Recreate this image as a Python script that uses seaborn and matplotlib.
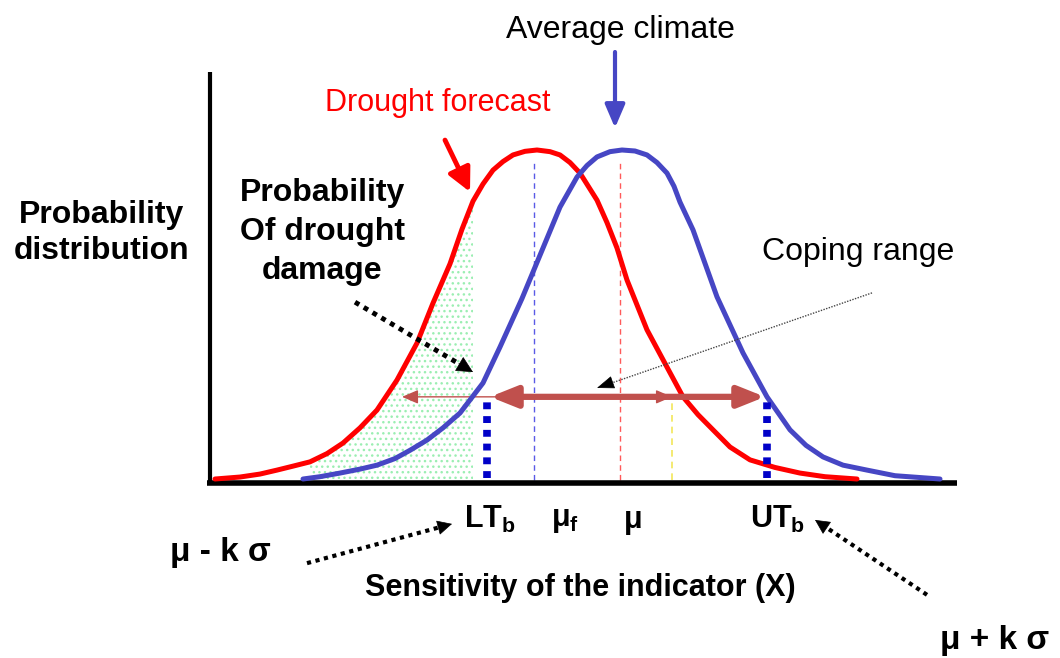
import matplotlib
matplotlib.use("Agg")
import matplotlib.pyplot as plt
import seaborn as sns
import numpy as np
import pandas as pd

# indicator value (x) and relative probability
forecast_x = [0.5, 3, 5, 6.7, 8.3, 10, 11.7, 13.3, 15, 16.7, 18.7, 20.7, 22.3, 24, 25.2,
              26.3, 27.3, 28.3, 29.3, 30.3, 31.5, 32.7, 34, 35, 36, 37, 38.7, 39.7, 40.7,
              41.7, 43.7, 45.7, 47.3, 48.8, 50.3, 52, 54, 56.5, 59, 61.5, 64.7]
forecast_p = [0.003, 0.009, 0.018, 0.030, 0.042, 0.055, 0.080, 0.112, 0.158, 0.212, 0.303,
              0.415, 0.536, 0.655, 0.760, 0.845, 0.897, 0.939, 0.965, 0.985, 0.996, 1.0,
              0.995, 0.985, 0.962, 0.930, 0.848, 0.780, 0.703, 0.606, 0.455, 0.342, 0.252,
              0.198, 0.152, 0.100, 0.061, 0.038, 0.021, 0.010, 0.003]
climate_x = [9.3, 11, 13, 15, 16.7, 18.5, 20, 21.7, 23.3, 25, 27.3, 29, 31.2, 33.3, 35,
             36.7, 37.7, 38.7, 40, 41.2, 42.5, 43.7, 44.7, 45.7, 46.4, 47, 48.3, 50.7,
             53.3, 55.7, 58, 59.6, 61.3, 63.3, 65.7, 68.5, 73]
climate_p = [0.003, 0.010, 0.021, 0.033, 0.045, 0.065, 0.090, 0.121, 0.158, 0.203, 0.294,
             0.403, 0.550, 0.703, 0.827, 0.918, 0.953, 0.979, 0.995, 1.0, 0.997, 0.985,
             0.962, 0.930, 0.890, 0.842, 0.758, 0.555, 0.385, 0.252, 0.152, 0.105, 0.070,
             0.045, 0.030, 0.013, 0.003]

mu_f = 32.4          # forecast mean
mu = 41.0            # climate mean
lt_b, ut_b = 27.7, 55.7          # coping range thresholds
fc_lo, fc_hi = 19.2, 46.2        # forecast-shifted range
threshold_p = 0.252
damage_lo, damage_hi = 8.5, 26.5

sns.set_style("white")
plt.rcParams["font.family"] = ["Liberation Sans", "DejaVu Sans"]
plt.rcParams["text.color"] = "black"
plt.rcParams["mathtext.fontset"] = "custom"
plt.rcParams["mathtext.rm"] = "Liberation Sans"
plt.rcParams["mathtext.bf"] = "Liberation Sans:bold"
plt.rcParams["mathtext.it"] = "Liberation Sans:italic"
plt.rcParams["hatch.linewidth"] = 1.0

fig = plt.figure(figsize=(10.6, 6.58), dpi=100)
ax = fig.add_axes([0, 0, 1, 1])
ax.set_xlim(-21, 85)
ax.set_ylim(-178 / 330, 480 / 330)
ax.axis("off")

RED = "#ff0000"
BLUE = "#4646c4"
BROWN = "#c0504d"


def dotted_arrow(start, end, lw, color, head=0.08, ms=16):
    # dotted shaft drawn as a line, solid head on the last bit
    (x0, y0), (x1, y1) = start, end
    xm, ym = x1 - head * (x1 - x0), y1 - head * (y1 - y0)
    ax.plot([x0, xm], [y0, ym], color=color, lw=lw, ls=(0, (1, 1.1)),
            dash_capstyle="butt", zorder=7)
    ax.annotate("", xy=(x1, y1), xytext=(xm, ym),
                arrowprops=dict(arrowstyle="-|>,head_length=0.6,head_width=0.3",
                                color=color, lw=0.5, shrinkA=0, shrinkB=0,
                                mutation_scale=ms), zorder=7)


# green dotted area: probability of drought damage
fx = np.array(forecast_x)
fp = np.array(forecast_p)
m = (fx >= damage_lo) & (fx <= damage_hi)
ax.fill_between(fx[m], 0, fp[m], facecolor="none", edgecolor="#9beeb2",
                hatch="...", linewidth=0, zorder=1)

# reference lines
ax.plot([mu_f, mu_f], [0, 0.97], color="#5a5ae6", lw=1, ls=(0, (4, 3)), zorder=2)
ax.plot([mu, mu], [0, 0.97], color="#ff5a5a", lw=1, ls=(0, (4, 3)), zorder=2)
ax.plot([fc_hi, fc_hi], [0, threshold_p], color="#f2e65a", lw=1.2, ls=(0, (4, 3)), zorder=2)

# distributions
curves = pd.DataFrame({
    "x": forecast_x + climate_x,
    "p": forecast_p + climate_p,
    "series": ["forecast"] * len(forecast_x) + ["climate"] * len(climate_x),
})
sns.lineplot(data=curves, x="x", y="p", hue="series",
             palette={"forecast": RED, "climate": BLUE},
             linewidth=3.6, legend=False, ax=ax, zorder=4)

# threshold markers
for xv in [lt_b, ut_b]:
    ax.plot([xv, xv], [0.006, threshold_p], color="#0000c8", lw=5.5,
            ls=(0, (0.9, 0.9)), zorder=5)

# coping range arrows
ax.annotate("", xy=(fc_lo, threshold_p), xytext=(fc_hi, threshold_p),
            arrowprops=dict(arrowstyle="<|-|>,head_length=0.7,head_width=0.3",
                            color=BROWN, lw=1, shrinkA=0, shrinkB=0, mutation_scale=14),
            zorder=3)
ax.annotate("", xy=(lt_b + 0.3, threshold_p), xytext=(ut_b - 0.2, threshold_p),
            arrowprops=dict(arrowstyle="<|-|>,head_length=1.0,head_width=0.4",
                            color=BROWN, lw=4.5, shrinkA=0, shrinkB=0, mutation_scale=16),
            zorder=6)

# axes
ax.plot([0, 0], [-0.006, 1.236], color="black", lw=3, solid_capstyle="butt")
ax.plot([-0.3, 74.7], [-0.01, -0.01], color="black", lw=4, solid_capstyle="butt")

# labels at the top
ax.text(41.0, 1.364, "Average climate", fontsize=23, ha="center", va="center")
ax.annotate("", xy=(40.5, 1.067), xytext=(40.5, 1.297),
            arrowprops=dict(arrowstyle="-|>,head_length=0.7,head_width=0.3",
                            color=BLUE, lw=3, shrinkA=0, shrinkB=0, mutation_scale=20))
ax.text(22.8, 1.142, "Drought forecast", fontsize=22, color=RED, ha="center", va="center")
ax.annotate("", xy=(26.0, 0.873), xytext=(23.5, 1.030),
            arrowprops=dict(arrowstyle="-|>,head_length=0.7,head_width=0.35",
                            color=RED, lw=3.5, shrinkA=0, shrinkB=0, mutation_scale=20))

ax.text(11.2, 0.752, "Probability\nOf drought\ndamage", fontsize=23, fontweight="bold",
        ha="center", va="center", linespacing=1.4)
dotted_arrow((14.5, 0.539), (26.3, 0.327), lw=3.5, color="black", head=0.12, ms=18)
ax.text(-10.8, 0.748, "Probability\ndistribution", fontsize=23, fontweight="bold",
        ha="center", va="center", linespacing=1.25)

ax.text(64.8, 0.691, "Coping range", fontsize=23, ha="center", va="center")
ax.plot([66.2, 39.5], [0.567, 0.287], color="#444444", lw=1, ls=(0, (1, 1)), zorder=7)
ax.annotate("", xy=(38.7, 0.279), xytext=(40.0, 0.293),
            arrowprops=dict(arrowstyle="-|>,head_length=0.8,head_width=0.3",
                            color="black", lw=0.5, shrinkA=0, shrinkB=0,
                            mutation_scale=14), zorder=7)

# labels below the axis
yb = -0.121
ax.text(28.0, yb, r"LT$_\mathbf{b}$", fontsize=22, fontweight="bold", ha="center", va="center")
ax.text(35.5, yb, r"μ$_\mathbf{f}$", fontsize=22, fontweight="bold", ha="center", va="center")
ax.text(42.3, yb, "μ", fontsize=22, fontweight="bold", ha="center", va="center")
ax.text(56.8, yb, r"UT$_\mathbf{b}$", fontsize=22, fontweight="bold", ha="center", va="center")
ax.text(1.0, -0.221, "μ - k σ", fontsize=24, fontweight="bold", ha="center", va="center")
ax.text(78.5, -0.485, "μ + k σ", fontsize=24, fontweight="bold", ha="center", va="center")
ax.text(37.0, -0.327, "Sensitivity of the indicator (X)", fontsize=22, fontweight="bold",
        ha="center", va="center")

dotted_arrow((9.7, -0.252), (24.2, -0.133), lw=3, color="black", head=0.07)
dotted_arrow((71.7, -0.348), (60.5, -0.121), lw=3, color="black", head=0.1)

fig.savefig("out.png", dpi=100)
